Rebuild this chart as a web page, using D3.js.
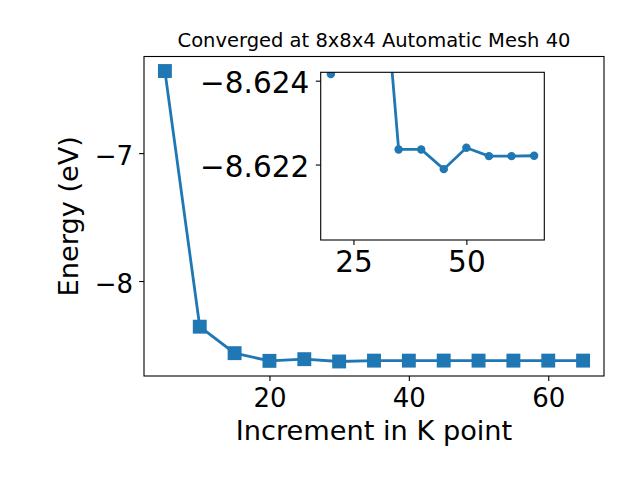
<!DOCTYPE html>
<html lang="en">

<head>
    <meta charset="UTF-8">
    <title>K point convergence</title>
    <script src="https://d3js.org/d3.v7.min.js"></script>
    <style>
        body { margin: 0; background: #fff; }
        svg { display: block; font-family: "DejaVu Sans", sans-serif; }
    </style>
</head>

<body>
    <svg id="chart"></svg>

    <script>
        // K point increments and total energies (eV)
        const kPoints = [5, 10, 15, 20, 25, 30, 35, 40, 45, 50, 55, 60, 65];
        const energy = [-6.358, -8.357, -8.564, -8.6242, -8.611, -8.629, -8.6224,
            -8.6224, -8.6219, -8.6224, -8.6222, -8.6222, -8.6222];

        // zoomed inset: points from 20 onwards
        const insetK = [20, 25, 30, 35, 40, 45, 50, 55, 60, 65];
        const insetEnergy = [-8.62416, -8.6300, -8.6288, -8.62236, -8.62236,
            -8.62189, -8.6224, -8.6222, -8.6222, -8.62221];

        const xTicks = [20, 40, 60];
        const yTicks = [-7, -8];
        const insetXTicks = [25, 50];
        const insetYTicks = [-8.624, -8.622];
        const insetYLim = [-8.6202, -8.6242];   // inverted, as in the original

        const width = 640, height = 480;
        const blue = "#1f77b4";

        const svg = d3.select("#chart").attr("width", width).attr("height", height);

        // main axes box
        const box = { left: 144, right: 604, top: 56.5, bottom: 376 };

        function padded(ext) {
            const m = (ext[1] - ext[0]) * 0.05;
            return [ext[0] - m, ext[1] + m];
        }

        const x = d3.scaleLinear().domain(padded(d3.extent(kPoints))).range([box.left, box.right]);
        const y = d3.scaleLinear().domain(padded(d3.extent(energy))).range([box.bottom, box.top]);

        svg.append("clipPath").attr("id", "mainClip")
            .append("rect")
            .attr("x", box.left).attr("y", box.top)
            .attr("width", box.right - box.left).attr("height", box.bottom - box.top);

        const mainData = kPoints.map((k, i) => [k, energy[i]]);

        const plot = svg.append("g").attr("clip-path", "url(#mainClip)");
        plot.append("path")
            .datum(mainData)
            .attr("d", d3.line().x(d => x(d[0])).y(d => y(d[1])))
            .attr("fill", "none")
            .attr("stroke", blue)
            .attr("stroke-width", 2.8);

        const sq = 13.9;
        plot.selectAll("rect.pt")
            .data(mainData)
            .join("rect")
            .attr("class", "pt")
            .attr("x", d => x(d[0]) - sq / 2)
            .attr("y", d => y(d[1]) - sq / 2)
            .attr("width", sq)
            .attr("height", sq)
            .attr("fill", blue);

        // axes
        const xAxis = d3.axisBottom(x).tickValues(xTicks).tickSize(4.9).tickPadding(4.9).tickFormat(d3.format("d"));
        const yAxis = d3.axisLeft(y).tickValues(yTicks).tickSize(4.9).tickPadding(4.9).tickFormat(d3.format("d"));

        const gx = svg.append("g").attr("transform", `translate(0,${box.bottom})`).call(xAxis);
        const gy = svg.append("g").attr("transform", `translate(${box.left},0)`).call(yAxis);

        [gx, gy].forEach(g => {
            g.select(".domain").remove();
            g.selectAll(".tick line").attr("stroke", "#000").attr("stroke-width", 1.1);
            g.selectAll(".tick text").attr("fill", "#000").attr("font-size", 26)
                .attr("font-family", "DejaVu Sans, sans-serif");
        });
        gx.selectAll(".tick text").attr("dy", null).attr("y", 30.7);
        gy.selectAll(".tick text").attr("dy", null).attr("y", 11.5).attr("x", -11);

        svg.append("rect")
            .attr("x", box.left).attr("y", box.top)
            .attr("width", box.right - box.left).attr("height", box.bottom - box.top)
            .attr("fill", "none").attr("stroke", "#000").attr("stroke-width", 1.1);

        // labels
        svg.append("text")
            .attr("x", (box.left + box.right) / 2).attr("y", 440)
            .attr("text-anchor", "middle").attr("font-size", 27.2)
            .text("Increment in K point");

        svg.append("text")
            .attr("transform", `translate(78.3,${(box.top + box.bottom) / 2}) rotate(-90)`)
            .attr("text-anchor", "middle").attr("font-size", 27.2)
            .text("Energy (eV)");

        svg.append("text")
            .attr("x", (box.left + box.right) / 2).attr("y", 47.3)
            .attr("text-anchor", "middle").attr("font-size", 19.5)
            .text("Converged at 8x8x4 Automatic Mesh 40");

        // inset
        const ib = { left: 320.7, right: 544.3, top: 72.3, bottom: 240 };

        const xi = d3.scaleLinear().domain(padded(d3.extent(insetK))).range([ib.left, ib.right]);
        const yi = d3.scaleLinear().domain(insetYLim).range([ib.bottom, ib.top]);

        svg.append("rect")
            .attr("x", ib.left).attr("y", ib.top)
            .attr("width", ib.right - ib.left).attr("height", ib.bottom - ib.top)
            .attr("fill", "#fff");

        svg.append("clipPath").attr("id", "insetClip")
            .append("rect")
            .attr("x", ib.left).attr("y", ib.top)
            .attr("width", ib.right - ib.left).attr("height", ib.bottom - ib.top);

        const insetData = insetK.map((k, i) => [k, insetEnergy[i]]);
        const inset = svg.append("g").attr("clip-path", "url(#insetClip)");

        inset.append("path")
            .datum(insetData)
            .attr("d", d3.line().x(d => xi(d[0])).y(d => yi(d[1])))
            .attr("fill", "none")
            .attr("stroke", blue)
            .attr("stroke-width", 2.8);

        inset.selectAll("circle")
            .data(insetData)
            .join("circle")
            .attr("cx", d => xi(d[0]))
            .attr("cy", d => yi(d[1]))
            .attr("r", 4.2)
            .attr("fill", blue);

        const gxi = svg.append("g").attr("transform", `translate(0,${ib.bottom})`)
            .call(d3.axisBottom(xi).tickValues(insetXTicks).tickSize(4.9).tickPadding(4.9).tickFormat(d3.format("d")));
        const gyi = svg.append("g").attr("transform", `translate(${ib.left},0)`)
            .call(d3.axisLeft(yi).tickValues(insetYTicks).tickSize(4.9).tickPadding(4.9).tickFormat(d3.format(".3f")));

        [gxi, gyi].forEach(g => {
            g.select(".domain").remove();
            g.selectAll(".tick line").attr("stroke", "#000").attr("stroke-width", 1.1);
            g.selectAll(".tick text").attr("fill", "#000").attr("font-size", 29.5)
                .attr("font-family", "DejaVu Sans, sans-serif");
        });
        gxi.selectAll(".tick text").attr("dy", null).attr("y", 32.2);
        gyi.selectAll(".tick text").attr("dy", null).attr("y", 11.6).attr("x", -11.5);

        svg.append("rect")
            .attr("x", ib.left).attr("y", ib.top)
            .attr("width", ib.right - ib.left).attr("height", ib.bottom - ib.top)
            .attr("fill", "none").attr("stroke", "#000").attr("stroke-width", 1.1);
    </script>
</body>

</html>
